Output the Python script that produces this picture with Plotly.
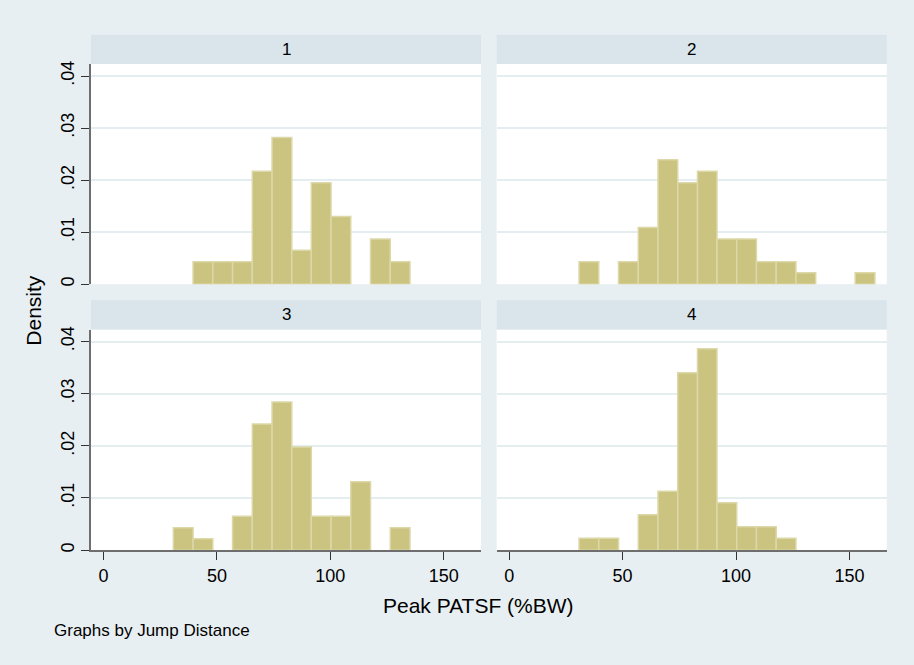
import plotly.graph_objects as go

# ---- data ----
bin_edges = [30.8, 39.5, 48.2, 56.9, 65.6, 74.3, 83.0, 91.6, 100.3,
             109.0, 117.7, 126.4, 135.1, 143.8, 152.5, 161.2]
panel_labels = ["1", "2", "3", "4"]
density_1 = [0, 0.0043, 0.0043, 0.0043, 0.0217, 0.0282, 0.0065, 0.0195,
             0.0130, 0, 0.0087, 0.0043, 0, 0, 0]
density_2 = [0.0043, 0, 0.0043, 0.0109, 0.0239, 0.0195, 0.0217, 0.0087,
             0.0087, 0.0043, 0.0043, 0.0022, 0, 0, 0.0022]
density_3 = [0.0043, 0.0022, 0, 0.0065, 0.0242, 0.0284, 0.0198, 0.0065,
             0.0065, 0.0131, 0, 0.0043, 0, 0, 0]
density_4 = [0.0023, 0.0023, 0, 0.0068, 0.0113, 0.0340, 0.0386, 0.0091,
             0.0045, 0.0045, 0.0023, 0, 0, 0, 0]
y_tickvals = [0, 0.01, 0.02, 0.03, 0.04]
y_ticktext = ["0", ".01", ".02", ".03", ".04"]
x_tickvals = [0, 50, 100, 150]
x_ticktext = ["0", "50", "100", "150"]
x_title = "Peak PATSF (%BW)"
y_title = "Density"
note_text = "Graphs by Jump Distance"

# ---- style ----
W, H = 914, 665
FONT = "Liberation Sans, Arial, Helvetica, sans-serif"
BG = "#e8eff2"
STRIP = "#d9e5eb"
GRID = "#e4edf0"
BAR = "#cbc380"
BAR_LINE = "#dcd8a8"
AXIS = "#6e6e6e"

centers = [(a + b) / 2 for a, b in zip(bin_edges[:-1], bin_edges[1:])]
widths = [b - a for a, b in zip(bin_edges[:-1], bin_edges[1:])]

# panel pixel boxes (left, right, top, bottom)
xl = [(91, 481), (496.7, 886.7)]
yt = [(61.5, 283.3), (329, 551.3)]
strip_h = 29.5

def px_x(v):
    return v / W

def px_y(v):
    return 1 - v / H

fig = go.Figure()
densities = [density_1, density_2, density_3, density_4]
shapes = []
annotations = []
for i, dens in enumerate(densities):
    r, c = divmod(i, 2)
    n = "" if i == 0 else str(i + 1)
    keep = [k for k, d in enumerate(dens) if d > 0]
    fig.add_trace(go.Bar(
        x=[centers[k] for k in keep], y=[dens[k] for k in keep],
        width=[widths[k] for k in keep],
        marker=dict(color=BAR, line=dict(color=BAR_LINE, width=1.5)),
        xaxis="x" + n, yaxis="y" + n, showlegend=False, hoverinfo="skip"))
    x0, x1 = xl[c]
    y0, y1 = yt[r]
    bottom = r == 1
    left = c == 0
    fig.layout["xaxis" + n] = dict(
        domain=[px_x(x0), px_x(x1)], range=[-5.5, 166.4], anchor="y" + n,
        showgrid=False, zeroline=False,
        showline=bottom, linecolor=AXIS, linewidth=1.5,
        ticks="outside" if bottom else "", ticklen=8, tickwidth=1.2,
        tickcolor="#333333",
        tickvals=x_tickvals, ticktext=x_ticktext, showticklabels=bottom,
        tickfont=dict(family=FONT, size=18, color="#000000"))
    fig.layout["yaxis" + n] = dict(
        domain=[px_y(y1), px_y(y0)], range=[0, 0.0423], anchor="x" + n,
        showgrid=True, gridcolor=GRID, gridwidth=2, zeroline=False,
        showline=left, linecolor=AXIS, linewidth=1.5,
        ticks="outside" if left else "", ticklen=8, tickwidth=1.2,
        tickcolor="#333333",
        tickvals=y_tickvals, ticktext=y_ticktext, showticklabels=left,
        tickangle=-90,
        tickfont=dict(family=FONT, size=18, color="#000000"))
    shapes.append(dict(type="rect", xref="paper", yref="paper",
                       x0=px_x(x0), x1=px_x(x1),
                       y0=px_y(y0), y1=px_y(y0 - strip_h),
                       fillcolor=STRIP, line=dict(width=0), layer="below"))
    annotations.append(dict(text=panel_labels[i], xref="paper", yref="paper",
                            x=px_x((x0 + x1) / 2), y=px_y(y0 - strip_h / 2),
                            showarrow=False, xanchor="center", yanchor="middle",
                            font=dict(family=FONT, size=17, color="#000000")))

annotations.append(dict(text=x_title, xref="paper", yref="paper",
                        x=px_x(478), y=px_y(607), showarrow=False,
                        xanchor="center", yanchor="middle",
                        font=dict(family=FONT, size=21, color="#000000")))
annotations.append(dict(text=y_title, xref="paper", yref="paper",
                        x=px_x(34), y=px_y(310), showarrow=False, textangle=-90,
                        xanchor="center", yanchor="middle",
                        font=dict(family=FONT, size=21, color="#000000")))
annotations.append(dict(text=note_text, xref="paper", yref="paper",
                        x=px_x(52), y=px_y(632), showarrow=False,
                        xanchor="left", yanchor="middle",
                        font=dict(family=FONT, size=17, color="#000000")))

fig.update_layout(
    width=W, height=H, margin=dict(l=0, r=0, t=0, b=0),
    paper_bgcolor=BG, plot_bgcolor="#ffffff",
    shapes=shapes, annotations=annotations, barmode="overlay",
    font=dict(family=FONT))

fig.write_html("out.html")
